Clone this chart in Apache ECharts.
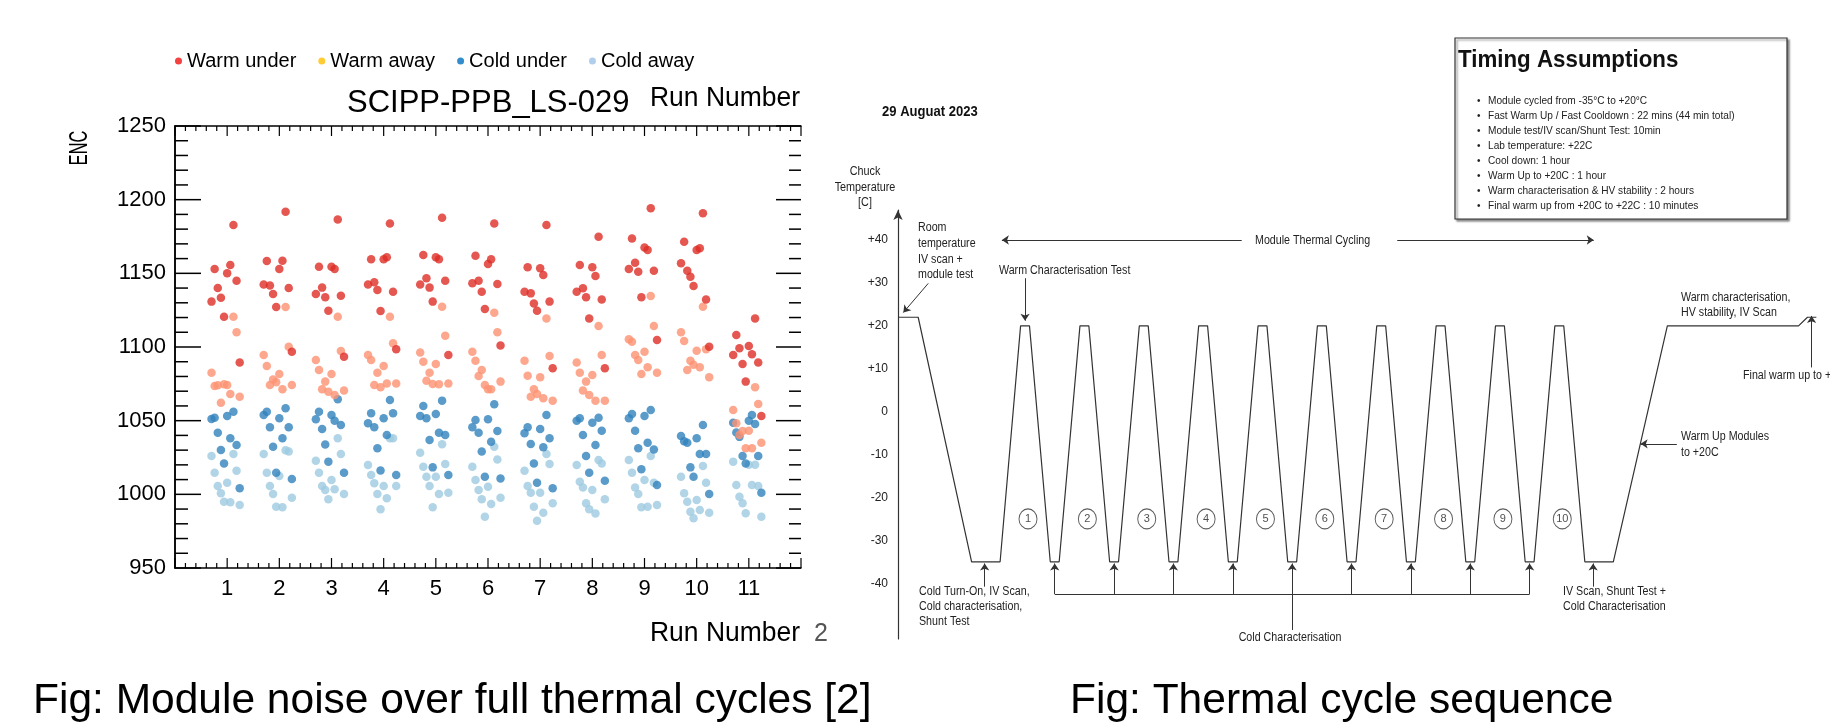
<!DOCTYPE html>
<html>
<head>
<meta charset="utf-8">
<script src="https://cdn.jsdelivr.net/npm/echarts@6/dist/echarts.min.js"></script>
<style>
  html, body { margin: 0; padding: 0; background: #fff; }
  #chart { width: 1830px; height: 727px; }
</style>
</head>
<body>
<div id="chart"></div>
<script>
// ---- left plot: module noise per run, 10 chips per run ----
const runs = [1, 2, 3, 4, 5, 6, 7, 8, 9, 10, 11];
const chipOffsets = [-0.30, -0.24, -0.18, -0.12, -0.06, 0, 0.06, 0.12, 0.18, 0.24];

const warmUnder = [
  [1130.8, 1152.9, 1140.0, 1133.5, 1120.6, 1150.0, 1155.6, 1182.8, 1145.0, 1089.4],
  [1142.5, 1158.3, 1141.8, 1136.0, 1127.1, 1152.9, 1158.6, 1191.8, 1140.0, 1096.8],
  [1136.0, 1154.5, 1140.3, 1133.7, 1124.6, 1154.5, 1152.9, 1186.6, 1134.8, 1093.4],
  [1142.5, 1159.5, 1143.9, 1138.7, 1124.4, 1159.5, 1160.9, 1183.9, 1137.5, 1098.4],
  [1142.5, 1162.4, 1146.6, 1140.3, 1130.8, 1160.9, 1159.5, 1187.8, 1145.0, 1094.5],
  [1143.2, 1162.0, 1145.0, 1137.5, 1125.8, 1156.3, 1159.5, 1183.9, 1142.7, 1101.0],
  [1137.5, 1154.1, 1136.4, 1129.6, 1124.6, 1153.4, 1148.9, 1182.8, 1130.8, 1085.5],
  [1137.5, 1155.6, 1139.8, 1133.7, 1119.4, 1154.1, 1148.2, 1174.9, 1132.3, 1085.5],
  [1152.9, 1173.7, 1157.2, 1151.1, 1133.7, 1167.6, 1165.8, 1194.1, 1151.8, 1104.7],
  [1156.8, 1171.5, 1151.8, 1147.7, 1141.4, 1165.8, 1167.0, 1190.7, 1132.3, 1100.2],
  [1094.5, 1108.1, 1099.1, 1088.5, 1076.5, 1100.7, 1095.0, 1119.4, 1089.4, 1053.2]
];
const warmAway = [
  [1082.6, 1073.5, 1074.0, 1062.2, 1074.7, 1074.2, 1068.1, 1120.6, 1110.0, 1066.3],
  [1094.6, 1087.1, 1074.2, 1078.0, 1076.0, 1081.7, 1071.3, 1127.1, 1100.2, 1074.2],
  [1091.2, 1084.4, 1071.3, 1076.5, 1069.7, 1081.7, 1067.4, 1120.6, 1097.3, 1070.4],
  [1094.6, 1091.2, 1074.2, 1082.6, 1072.6, 1087.1, 1075.3, 1120.6, 1102.5, 1075.3],
  [1096.2, 1090.0, 1077.1, 1082.6, 1074.9, 1088.5, 1074.7, 1127.4, 1107.7, 1075.3],
  [1096.8, 1090.7, 1080.3, 1084.4, 1074.2, 1071.3, 1071.3, 1123.3, 1110.0, 1076.5],
  [1090.7, 1080.5, 1066.3, 1071.3, 1068.1, 1079.4, 1065.2, 1119.4, 1093.9, 1063.6],
  [1089.4, 1082.6, 1070.4, 1076.5, 1067.4, 1081.0, 1063.6, 1114.2, 1094.5, 1063.6],
  [1105.2, 1103.6, 1094.5, 1091.2, 1081.7, 1096.8, 1086.2, 1134.6, 1114.2, 1082.6],
  [1110.0, 1104.1, 1084.4, 1090.7, 1088.0, 1097.5, 1086.2, 1127.4, 1098.4, 1079.4],
  [1057.2, 1048.2, 1040.3, 1043.0, 1031.2, 1043.2, 1031.2, 1072.6, 1061.3, 1035.0]
];
const coldUnder = [
  [1051.1, 1052.0, 1041.8, 1030.1, 1021.0, 1053.2, 1038.0, 1056.1, 1033.5, 1004.1],
  [1053.8, 1056.1, 1045.5, 1032.3, 1014.7, 1051.6, 1038.0, 1058.4, 1045.5, 1010.4],
  [1050.9, 1056.1, 1044.3, 1033.9, 1022.2, 1053.8, 1050.0, 1064.5, 1047.0, 1014.7],
  [1048.2, 1055.0, 1045.5, 1031.2, 1016.1, 1051.6, 1040.3, 1064.0, 1055.0, 1013.1],
  [1053.2, 1059.9, 1051.6, 1036.9, 1018.3, 1054.5, 1041.8, 1063.6, 1040.3, 1013.1],
  [1045.5, 1050.5, 1041.8, 1029.0, 1012.0, 1050.9, 1035.7, 1061.1, 1043.0, 1010.8],
  [1041.4, 1045.5, 1034.2, 1021.0, 1007.9, 1044.3, 1031.9, 1053.8, 1038.0, 1004.1],
  [1050.0, 1051.6, 1040.3, 1026.0, 1014.7, 1048.6, 1033.5, 1052.0, 1043.2, 1009.3],
  [1051.6, 1054.5, 1043.2, 1031.2, 1017.0, 1053.2, 1035.0, 1057.2, 1030.5, 1006.3],
  [1039.6, 1036.0, 1035.0, 1018.3, 1012.0, 1038.0, 1027.4, 1047.0, 1027.4, 1000.2],
  [1048.6, 1042.0, 1039.0, 1026.0, 1021.0, 1050.0, 1053.8, 1047.7, 1026.0, 1001.1]
];
const coldAway = [
  [1026.0, 1014.7, 1005.6, 1000.7, 995.0, 1007.9, 994.6, 1027.4, 1016.0, 992.7],
  [1027.4, 1014.7, 1005.6, 1000.2, 991.6, 1012.4, 991.2, 1030.0, 1029.0, 997.7],
  [1022.8, 1014.7, 1005.6, 1002.9, 996.6, 1009.7, 1003.4, 1038.0, 1027.4, 1000.2],
  [1019.9, 1013.1, 1007.5, 1000.2, 989.8, 1005.6, 997.3, 1038.0, 1038.0, 1005.6],
  [1028.3, 1018.8, 1012.0, 1005.6, 991.2, 1012.0, 1000.2, 1034.0, 1020.6, 1001.1],
  [1018.8, 1009.7, 1003.0, 996.6, 984.8, 1005.2, 993.4, 1032.3, 1023.7, 997.7],
  [1016.0, 1005.6, 1001.1, 991.6, 982.1, 1001.1, 987.5, 1027.4, 1020.6, 993.9],
  [1019.9, 1008.6, 1004.7, 993.9, 989.8, 1003.0, 987.0, 1023.3, 1021.0, 996.6],
  [1023.3, 1014.7, 1004.7, 1000.2, 991.2, 1009.7, 991.6, 1026.0, 1007.9, 992.7],
  [1012.0, 1000.7, 995.0, 988.2, 983.7, 996.1, 989.3, 1019.2, 1007.9, 987.5],
  [1022.2, 1006.3, 998.4, 993.9, 987.1, 1020.0, 1006.3, 1020.0, 1005.6, 984.8]
];

// frame tick layout of the left plot (ROOT style, ticks on all four sides)
const xRange = [0, 12];
const yRange = [950, 1250];
const xMajorStep = 1, xMinorStep = 0.2;
const yMajorStep = 50, yMinorStep = 10;

// ---- right plot: chuck temperature profile (arbitrary time units) ----
const profileTime = [0, 3.4, 12.4, 17.2,
  20.65, 22.15, 25.65, 27.15, 30.65, 32.15, 35.65, 37.15, 40.65, 42.15, 45.65, 47.15,
  50.65, 52.15, 55.65, 57.15, 60.65, 62.15, 65.65, 67.15, 70.65, 72.15, 75.65, 77.15,
  80.65, 82.15, 85.65, 87.15, 90.65, 92.15, 95.65, 97.15, 100.65, 102.15, 105.65, 107.15,
  110.65, 112.15, 115.7, 120.5, 129.6, 151.7, 153.2, 154.7];
const profileTemp = [22, 22, -35, -35,
  20, 20, -35, -35, 20, 20, -35, -35, 20, 20, -35, -35,
  20, 20, -35, -35, 20, 20, -35, -35, 20, 20, -35, -35,
  20, 20, -35, -35, 20, 20, -35, -35, 20, 20, -35, -35,
  20, 20, -35, -35, 20, 20, 22, 22];
const tempTicks = [-40, -30, -20, -10, 0, 10, 20, 30, 40];
const cycleNumbers = [1, 2, 3, 4, 5, 6, 7, 8, 9, 10];
const cycleLabelTime = [21.9, 31.9, 41.9, 51.9, 61.9, 71.9, 81.9, 91.9, 101.9, 111.9];
const coldCharTime = [26.4, 36.4, 46.4, 56.4, 66.4, 76.4, 86.4, 96.4, 106.4];
// annotation arrows [t1, T1, t2, T2], head at the second point
const arrowLines = [
  [5.1, 29.9, 0.9, 23.1],
  [57.9, 40, 17.5, 40],
  [84.1, 40, 117.2, 40],
  [21.4, 31.1, 21.4, 21.2],
  [14.6, -40.8, 14.6, -35.4],
  [117.1, -40.8, 117.1, -35.4],
  [131.2, -7.5, 125.1, -7.5],
  [153.9, 10.3, 153.9, 22.3]
];

const FONT = 'Liberation Sans, Arial, sans-serif';
const INK = '#222';

function txt(text, x, y, o) {
  o = o || {};
  return {
    type: 'text', x: x, y: y, silent: true, z: 10,
    scaleX: o.sx || 1, rotation: o.rot || 0,
    style: {
      text: text, fontSize: o.size || 12, fontFamily: FONT,
      fontWeight: o.bold ? 'bold' : 'normal', fill: o.color || INK,
      align: o.align || 'left', verticalAlign: 'middle'
    }
  };
}

function chipPoints(values) {
  const pts = [];
  runs.forEach((r, i) => {
    values[i].forEach((v, c) => pts.push([r + chipOffsets[c], v]));
  });
  return pts;
}

// tick list: [value, axis(0 = x, 1 = y), major?]
const frameTicks = [];
for (let v = xRange[0]; v <= xRange[1] + 1e-9; v += xMinorStep) {
  const r = Math.round(v * 10) / 10;
  frameTicks.push([r, 0, Math.abs(r / xMajorStep - Math.round(r / xMajorStep)) < 1e-6 ? 1 : 0]);
}
for (let v = yRange[0]; v <= yRange[1]; v += yMinorStep) {
  frameTicks.push([v, 1, v % yMajorStep === 0 ? 1 : 0]);
}

function renderTick(params, api) {
  const v = api.value(0), axis = api.value(1), major = api.value(2) === 1;
  const st = { stroke: '#000', lineWidth: axis === 0 ? 1.2 : 1.5 };
  if (axis === 0) {
    const len = major ? 10 : 5;
    const b = api.coord([v, yRange[0]]), t = api.coord([v, yRange[1]]);
    return { type: 'group', children: [
      { type: 'line', shape: { x1: b[0], y1: b[1], x2: b[0], y2: b[1] - len }, style: st },
      { type: 'line', shape: { x1: t[0], y1: t[1], x2: t[0], y2: t[1] + len }, style: st }
    ] };
  }
  const l = api.coord([xRange[0], v]), r = api.coord([xRange[1], v]);
  return { type: 'group', children: [
    { type: 'line', shape: { x1: l[0], y1: l[1], x2: l[0] + (major ? 26 : 13), y2: l[1] }, style: st },
    { type: 'line', shape: { x1: r[0], y1: r[1], x2: r[0] - (major ? 25 : 12), y2: r[1] }, style: st }
  ] };
}

const chart = echarts.init(document.getElementById('chart'));

const frameLine = { show: true, lineStyle: { color: '#000', width: 1.5 } };
function xFrame(pos, labels) {
  return {
    type: 'value', gridIndex: 0, position: pos, min: xRange[0], max: xRange[1], interval: xMajorStep,
    axisLine: frameLine, axisTick: { show: false }, splitLine: { show: false },
    axisLabel: labels ? {
      margin: 10, fontSize: 22, color: '#000', fontFamily: FONT,
      formatter: v => (v >= 1 && v <= 11 ? String(v) : '')
    } : { show: false }
  };
}
function yFrame(pos, labels) {
  return {
    type: 'value', gridIndex: 0, position: pos, min: yRange[0], max: yRange[1], interval: yMajorStep,
    axisLine: frameLine, axisTick: { show: false }, splitLine: { show: false },
    axisLabel: labels ? { margin: 9, fontSize: 22, color: '#000', fontFamily: FONT, formatter: v => String(v) }
      : { show: false }
  };
}

const scatterBase = { type: 'scatter', xAxisIndex: 0, yAxisIndex: 0, symbolSize: 8.5, z: 3 };

const graphics = [
  // left plot texts
  txt('SCIPP-PPB_LS-029', 347, 103, { size: 31, color: '#000' }),
  txt('Run Number', 800, 99, { size: 27, color: '#000', align: 'right', sx: 0.98 }),
  txt('Run Number', 800, 634, { size: 27, color: '#000', align: 'right', sx: 0.98 }),
  txt('2', 814, 634, { size: 25, color: '#555' }),
  txt('ENC', 80, 148, { size: 25, color: '#000', align: 'center', rot: Math.PI / 2, sx: 0.65 }),
  // captions
  txt('Fig: Module noise over full thermal cycles [2]', 33, 701, { size: 42.5, color: '#000' }),
  txt('Fig: Thermal cycle sequence', 1070, 701, { size: 42.5, color: '#000' }),
  // diagram texts
  txt('29 Auguat 2023', 882, 112, { size: 15, bold: true, sx: 0.87, color: '#111' }),
  txt('Chuck', 865, 172, { size: 12, align: 'center', sx: 0.9 }),
  txt('Temperature', 865, 188, { size: 12, align: 'center', sx: 0.9 }),
  txt('[C]', 865, 203, { size: 12, align: 'center', sx: 0.9 }),
  txt('Room', 918, 228, { size: 12, sx: 0.89 }),
  txt('temperature', 918, 244, { size: 12, sx: 0.89 }),
  txt('IV scan +', 918, 260, { size: 12, sx: 0.89 }),
  txt('module test', 918, 275, { size: 12, sx: 0.89 }),
  txt('Module Thermal Cycling', 1255, 241, { size: 12, sx: 0.89 }),
  txt('Warm Characterisation Test', 999, 271, { size: 12, sx: 0.89 }),
  txt('Warm characterisation,', 1681, 298, { size: 12, sx: 0.89 }),
  txt('HV stability, IV Scan', 1681, 313, { size: 12, sx: 0.89 }),
  txt('Final warm up to +22C', 1743, 376, { size: 12, sx: 0.89 }),
  txt('Warm Up Modules', 1681, 437, { size: 12, sx: 0.89 }),
  txt('to +20C', 1681, 453, { size: 12, sx: 0.89 }),
  txt('Cold Turn-On, IV Scan,', 919, 592, { size: 12, sx: 0.89 }),
  txt('Cold characterisation,', 919, 607, { size: 12, sx: 0.89 }),
  txt('Shunt Test', 919, 622, { size: 12, sx: 0.89 }),
  txt('IV Scan, Shunt Test +', 1563, 592, { size: 12, sx: 0.89 }),
  txt('Cold Characterisation', 1563, 607, { size: 12, sx: 0.89 }),
  txt('Cold Characterisation', 1290, 638, { size: 12, align: 'center', sx: 0.89 }),
  // timing assumptions box
  {
    type: 'rect', silent: true, z: 5,
    shape: { x: 1455, y: 38, width: 332, height: 181 },
    style: { fill: '#fff', stroke: '#333', lineWidth: 1.2,
      shadowBlur: 2, shadowOffsetX: 2, shadowOffsetY: 2, shadowColor: 'rgba(0,0,0,0.45)' }
  },
  txt('Timing Assumptions', 1458, 60, { size: 24, bold: true, sx: 0.93, color: '#111' })
];

const timingLines = [
  'Module cycled from -35°C to +20°C',
  'Fast Warm Up / Fast Cooldown : 22 mins (44 min total)',
  'Module test/IV scan/Shunt Test: 10min',
  'Lab temperature: +22C',
  'Cool down: 1 hour',
  'Warm Up to +20C : 1 hour',
  'Warm characterisation & HV stability : 2 hours',
  'Final warm up from +20C to +22C : 10 minutes'
];
timingLines.forEach((line, i) => {
  const y = 101 + i * 15;
  graphics.push(txt('•', 1477, y, { size: 10 }));
  graphics.push(txt(line, 1488, y, { size: 11.5, sx: 0.88 }));
});

const option = {
  backgroundColor: '#fff',
  animation: false,
  textStyle: { fontFamily: FONT },
  legend: {
    left: 170, top: 46, itemGap: 22, itemWidth: 7, itemHeight: 7, icon: 'circle',
    textStyle: { fontSize: 20, color: '#000', fontFamily: FONT },
    data: [
      { name: 'Warm under', itemStyle: { color: '#f01010' } },
      { name: 'Warm away', itemStyle: { color: '#ffc000' } },
      { name: 'Cold under', itemStyle: { color: '#0070c0' } },
      { name: 'Cold away', itemStyle: { color: '#9dc3e6' } }
    ]
  },
  grid: [
    { left: 175, top: 126, width: 626, height: 442, containLabel: false, outerBoundsMode: 'none' },
    { left: 898, top: 210, width: 932, height: 429, containLabel: false, outerBoundsMode: 'none' }
  ],
  xAxis: [
    xFrame('bottom', true),
    xFrame('top', false),
    { type: 'value', gridIndex: 1, min: 0, max: 157, show: false }
  ],
  yAxis: [
    yFrame('left', true),
    yFrame('right', false),
    {
      type: 'value', gridIndex: 1, min: -53, max: 47,
      axisLine: {
        show: true, symbol: ['none', 'arrow'], symbolSize: [7, 10],
        lineStyle: { color: '#333', width: 1.2 }
      },
      axisTick: { show: false },
      splitLine: { show: false },
      axisLabel: {
        customValues: tempTicks, margin: 10, fontSize: 12, color: INK, fontFamily: FONT,
        formatter: v => (v > 0 ? '+' + v : String(v))
      }
    }
  ],
  series: [
    {
      type: 'custom', xAxisIndex: 0, yAxisIndex: 0, silent: true, clip: false, z: 4,
      renderItem: renderTick, data: frameTicks
    },
    Object.assign({ name: 'Cold away', data: chipPoints(coldAway), itemStyle: { color: '#9ecae1' } }, scatterBase),
    Object.assign({ name: 'Cold under', data: chipPoints(coldUnder), itemStyle: { color: '#3182bd' } }, scatterBase),
    Object.assign({ name: 'Warm away', data: chipPoints(warmAway), itemStyle: { color: '#fc9272' } }, scatterBase),
    Object.assign({ name: 'Warm under', data: chipPoints(warmUnder), itemStyle: { color: '#de2d26' } }, scatterBase),
    {
      type: 'line', xAxisIndex: 2, yAxisIndex: 2, showSymbol: false, silent: true,
      lineStyle: { color: '#333', width: 1.2 },
      data: profileTime.map((t, i) => [t, profileTemp[i]])
    },
    {
      type: 'lines', coordinateSystem: 'cartesian2d', xAxisIndex: 2, yAxisIndex: 2, silent: true,
      symbol: ['none', 'arrow'], symbolSize: 7,
      lineStyle: { color: '#333', width: 1, opacity: 1, curveness: 0 },
      data: arrowLines.map(a => ({ coords: [[a[0], a[1]], [a[2], a[3]]] }))
        .concat(coldCharTime.map(t => ({ coords: [[t, -42.5], [t, -35.4]] })))
    },
    {
      type: 'lines', coordinateSystem: 'cartesian2d', xAxisIndex: 2, yAxisIndex: 2, silent: true,
      symbol: 'none',
      lineStyle: { color: '#333', width: 1, opacity: 1, curveness: 0 },
      data: [
        { coords: [[coldCharTime[0], -42.5], [coldCharTime[coldCharTime.length - 1], -42.5]] },
        { coords: [[coldCharTime[4], -42.5], [coldCharTime[4], -50.9]] }
      ]
    },
    {
      type: 'scatter', xAxisIndex: 2, yAxisIndex: 2, silent: true,
      symbol: 'circle', symbolSize: [18, 20],
      itemStyle: { color: '#fff', borderColor: '#333', borderWidth: 1 },
      label: { show: true, position: 'inside', fontSize: 11, color: INK, formatter: p => p.value[2] },
      data: cycleLabelTime.map((t, i) => [t, -25, cycleNumbers[i]])
    }
  ],
  graphic: graphics
};

chart.setOption(option);
</script>
</body>
</html>
